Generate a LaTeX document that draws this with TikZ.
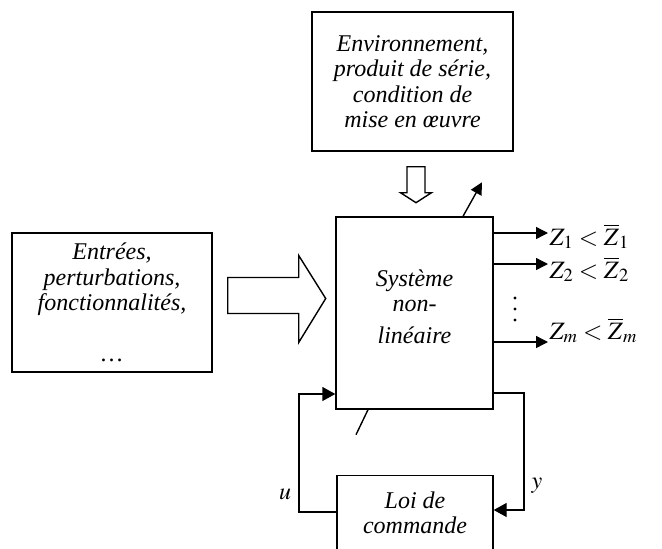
\documentclass[tikz,border=0pt]{standalone}
\usepackage{mathptmx}
\usepackage{fontspec}
\setmainfont{Liberation Serif}
\usetikzlibrary{arrows.meta,positioning}

\begin{document}
\begin{tikzpicture}[x=1pt, y=-1pt, line width=1.4pt,
  every node/.style={font=\fontsize{24}{25.5}\selectfont\itshape},
  block/.style={draw, align=center, inner sep=0pt},
  zlabel/.style={anchor=base west, inner sep=0pt, font=\fontsize{25}{28}\selectfont},
  arr/.style={-{Triangle[length=12pt,width=12pt]}}]
  \useasboundingbox (0,0) rectangle (662,549);
  % Boxes
  \node[block, minimum width=201pt, minimum height=139pt] (env) at (412.5,81.5) {Environnement,\\ produit de série,\\ condition de\\ mise en œuvre};
  \node[block, minimum width=200pt, minimum height=139pt] (inp) at (112,302.5) {Entrées,\\ perturbations,\\ fonctionnalités,\\[25.5pt] …};
  \node[block, minimum width=157pt, minimum height=192pt] (sys) at (414.5,313) {Système\\ non-\\[6pt] linéaire\\[-12pt]};
  \node[block, anchor=north, minimum width=156pt, inner ysep=16pt] (loi) at (415,475) {Loi de\\ commande};
  % Hollow arrows
  \draw ([shift={(15,-25)}]inp.east) -- ++(71,0) -- ++(0,-22) -- ++(27,43) -- ++(-27,44) -- ++(0,-29) -- ++(-71,0) -- cycle;
  \draw ([shift={(-5.5,15)}]env.south) -- ++(18,0) -- ++(0,26) -- ++(6.5,0) -- ++(-15.5,10) -- ++(-15.5,-10) -- ++(6.5,0) -- cycle;
  % Outputs
  \coordinate (o1) at (548,233);
  \coordinate (o2) at (548,264);
  \coordinate (om) at (548,342);
  \draw[arr] (sys.east |- o1) -- (o1);
  \draw[arr] (sys.east |- o2) -- (o2);
  \draw[arr] (sys.east |- om) -- (om);
  \node[zlabel] (z1) at (549,245) {$Z_1 < \overline{Z}_1$};
  \node[zlabel] (z2) at (549,278) {$Z_2 < \overline{Z}_2$};
  \node[zlabel] (zm) at (549,339) {$Z_m < \overline{Z}_m$};
  \foreach \k in {0,1,2}
    \fill (515,298+11*\k) circle (1.6pt);
  % Strokes on the system box
  \draw[arr] ([xshift=48.5]sys.north) -- ++(19,-34);
  \draw ([xshift=-46.5]sys.south) -- ++(-12,25);
  % Feedback loop
  \draw[-{Triangle[length=13pt,width=14pt]}] (loi.west |- 0,512) -- (299,512) -- (299,394) -- (sys.west |- 0,394);
  \draw[-{Triangle[length=13pt,width=14pt]}] (sys.east |- 0,393) -- (524,393) -- (524,510) -- (loi.east |- 0,510);
  \node (u) at (285,494) {$u$};
  \node (y) at (537,486) {$y$};
\end{tikzpicture}
\end{document}
